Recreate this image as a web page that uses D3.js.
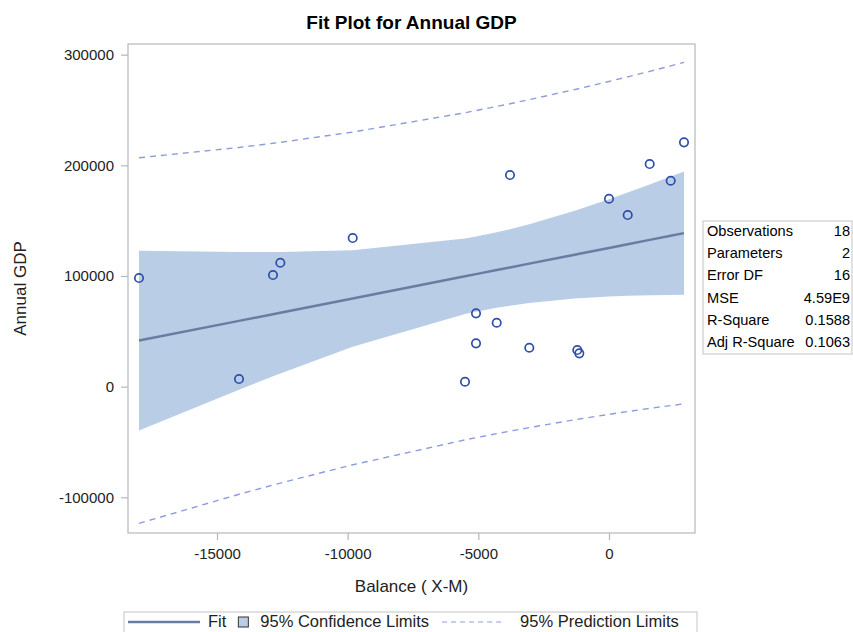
<!DOCTYPE html>
<html>
<head>
<meta charset="utf-8">
<script src="https://cdn.jsdelivr.net/npm/d3@7"></script>
<style>
  html, body { margin: 0; padding: 0; background: #fff; }
  svg { display: block; font-family: "Liberation Sans", Arial, sans-serif; }
</style>
</head>
<body>
<svg id="chart" width="853" height="632"></svg>
<script>
// Observations: trade balance (X-M) and annual GDP
const obsBalance = [-17985, -14158, -12857, -12577, -9807, -5510, -5089, -5089, -4297,
                    -3788, -3050, -1213, -1136, 0, 716, 1557, 2361, 2870];
const obsGDP = [98140, 6870, 100850, 111970, 134290, 4430, 66240, 39130, 57750,
                191220, 35150, 33080, 30090, 169800, 155070, 201160, 186070, 220770];

const xTicks = [-15000, -10000, -5000, 0];
const yTicks = [-100000, 0, 100000, 200000, 300000];

const statLabels = ["Observations", "Parameters", "Error DF", "MSE", "R-Square", "Adj R-Square"];
const statValues = ["18", "2", "16", "4.59E9", "0.1588", "0.1063"];

const legendLabels = ["Fit", "95% Confidence Limits", "95% Prediction Limits"];

const titleText = "Fit Plot for Annual GDP";
const xLabel = "Balance ( X-M)";
const yLabel = "Annual GDP";

// Student t quantile, 0.975, 16 df
const tCrit = 2.119905;

const svg = d3.select("#chart");
const plot = { left: 128, top: 44, right: 695, bottom: 533 };

const x = d3.scaleLinear().domain([-18406, 3291]).range([plot.left, plot.right]);
const y = d3.scaleLinear().domain([-132248, 309625]).range([plot.bottom, plot.top]);

// Ordinary least squares fit with confidence / prediction limits
const n = obsBalance.length;
const mx = d3.mean(obsBalance), my = d3.mean(obsGDP);
let sxx = 0, sxy = 0;
for (let i = 0; i < n; i++) {
  sxx += (obsBalance[i] - mx) ** 2;
  sxy += (obsBalance[i] - mx) * (obsGDP[i] - my);
}
const slope = sxy / sxx, intercept = my - slope * mx;
let sse = 0;
for (let i = 0; i < n; i++) sse += (obsGDP[i] - (intercept + slope * obsBalance[i])) ** 2;
const mse = sse / (n - 2);

const fitRows = Array.from(new Set(obsBalance)).sort((a, b) => a - b).map(b => {
  const f = intercept + slope * b;
  const h = 1 / n + (b - mx) ** 2 / sxx;
  const cl = tCrit * Math.sqrt(mse * h);
  const pl = tCrit * Math.sqrt(mse * (1 + h));
  return { b, f, lclm: f - cl, uclm: f + cl, lcl: f - pl, ucl: f + pl };
});

const clFill = "#b9cde7";
const fitColor = "#6a7ca2";
const plColor = "#8d9cdb";
const ptColor = "#2c4fa8";
const frameColor = "#b4b8bc";

// Confidence band
svg.append("path")
  .datum(fitRows)
  .attr("fill", clFill)
  .attr("d", d3.area().x(d => x(d.b)).y0(d => y(d.lclm)).y1(d => y(d.uclm)));

// Prediction limits
["lcl", "ucl"].forEach(k => {
  svg.append("path")
    .datum(fitRows)
    .attr("fill", "none")
    .attr("stroke", plColor)
    .attr("stroke-width", 1.4)
    .attr("stroke-dasharray", "6,5")
    .attr("d", d3.line().x(d => x(d.b)).y(d => y(d[k])));
});

// Fit line
svg.append("path")
  .datum(fitRows)
  .attr("fill", "none")
  .attr("stroke", fitColor)
  .attr("stroke-width", 2.5)
  .attr("d", d3.line().x(d => x(d.b)).y(d => y(d.f)));

// Observations
svg.append("g").selectAll("circle")
  .data(obsBalance.map((b, i) => [b, obsGDP[i]]))
  .join("circle")
  .attr("cx", d => x(d[0]))
  .attr("cy", d => y(d[1]))
  .attr("r", 4.2)
  .attr("fill", "none")
  .attr("stroke", ptColor)
  .attr("stroke-width", 1.7);

// Frame
svg.append("rect")
  .attr("x", plot.left).attr("y", plot.top)
  .attr("width", plot.right - plot.left).attr("height", plot.bottom - plot.top)
  .attr("fill", "none").attr("stroke", frameColor).attr("stroke-width", 1.2);

// Axes (plain hyphen for negative values)
const plainInt = d => String(d);
const xAxis = svg.append("g")
  .attr("transform", `translate(0,${plot.bottom})`)
  .call(d3.axisBottom(x).tickValues(xTicks).tickSize(7).tickPadding(8).tickFormat(plainInt));
const yAxis = svg.append("g")
  .attr("transform", `translate(${plot.left},0)`)
  .call(d3.axisLeft(y).tickValues(yTicks).tickSize(7).tickPadding(7).tickFormat(plainInt));
[xAxis, yAxis].forEach(g => {
  g.select(".domain").remove();
  g.selectAll(".tick line").attr("stroke", frameColor).attr("stroke-width", 1.2);
  g.selectAll(".tick text")
    .attr("fill", "#222")
    .style("font-size", "15px")
    .style("font-family", '"Liberation Sans", Arial, sans-serif');
});

// Title and axis labels
svg.append("text")
  .attr("x", (plot.left + plot.right) / 2).attr("y", 29)
  .attr("text-anchor", "middle")
  .style("font-size", "19px").style("font-weight", "bold")
  .attr("fill", "#000")
  .text(titleText);

svg.append("text")
  .attr("x", (plot.left + plot.right) / 2).attr("y", 592)
  .attr("text-anchor", "middle")
  .style("font-size", "17px").attr("fill", "#222")
  .text(xLabel);

svg.append("text")
  .attr("transform", `translate(26,${(plot.top + plot.bottom) / 2}) rotate(-90)`)
  .attr("text-anchor", "middle")
  .style("font-size", "17px").attr("fill", "#222")
  .text(yLabel);

// Fit statistics table
const tbl = { left: 703, top: 221, right: 852, bottom: 354, row: 22.2 };
svg.append("rect")
  .attr("x", tbl.left).attr("y", tbl.top)
  .attr("width", tbl.right - tbl.left).attr("height", tbl.bottom - tbl.top)
  .attr("fill", "#fff").attr("stroke", "#c4c4c4").attr("stroke-width", 1);
const rows = svg.append("g").selectAll("g")
  .data(statLabels.map((l, i) => [l, statValues[i]]))
  .join("g")
  .attr("transform", (d, i) => `translate(0,${tbl.top + 15 + i * tbl.row})`);
rows.append("text")
  .attr("x", tbl.left + 4)
  .style("font-size", "14.6px").attr("fill", "#000")
  .text(d => d[0]);
rows.append("text")
  .attr("x", tbl.right - 2).attr("text-anchor", "end")
  .style("font-size", "14.6px").attr("fill", "#000")
  .text(d => d[1]);

// Legend
const leg = { left: 124, top: 612, right: 697, bottom: 640, mid: 622 };
svg.append("rect")
  .attr("x", leg.left).attr("y", leg.top)
  .attr("width", leg.right - leg.left).attr("height", leg.bottom - leg.top)
  .attr("fill", "#fff").attr("stroke", "#c4c4c4").attr("stroke-width", 1);
const lg = svg.append("g");
let cx = leg.left + 4;
lg.append("line")
  .attr("x1", cx).attr("x2", cx + 72).attr("y1", leg.mid).attr("y2", leg.mid)
  .attr("stroke", fitColor).attr("stroke-width", 2.5);
cx += 80;
function legText(str) {
  const t = lg.append("text").attr("x", cx).attr("y", leg.mid + 5)
    .style("font-size", "16.5px").attr("fill", "#222").text(str);
  cx += t.node().getComputedTextLength();
}
legText(legendLabels[0]);
cx += 12;
lg.append("rect")
  .attr("x", cx).attr("y", leg.mid - 5).attr("width", 10).attr("height", 10)
  .attr("fill", clFill).attr("stroke", "#333").attr("stroke-width", 1);
cx += 22;
legText(legendLabels[1]);
cx += 13;
lg.append("line")
  .attr("x1", cx).attr("x2", cx + 63).attr("y1", leg.mid).attr("y2", leg.mid)
  .attr("stroke", plColor).attr("stroke-width", 1.2).attr("stroke-dasharray", "5,4");
cx += 78;
legText(legendLabels[2]);
</script>
</body>
</html>
